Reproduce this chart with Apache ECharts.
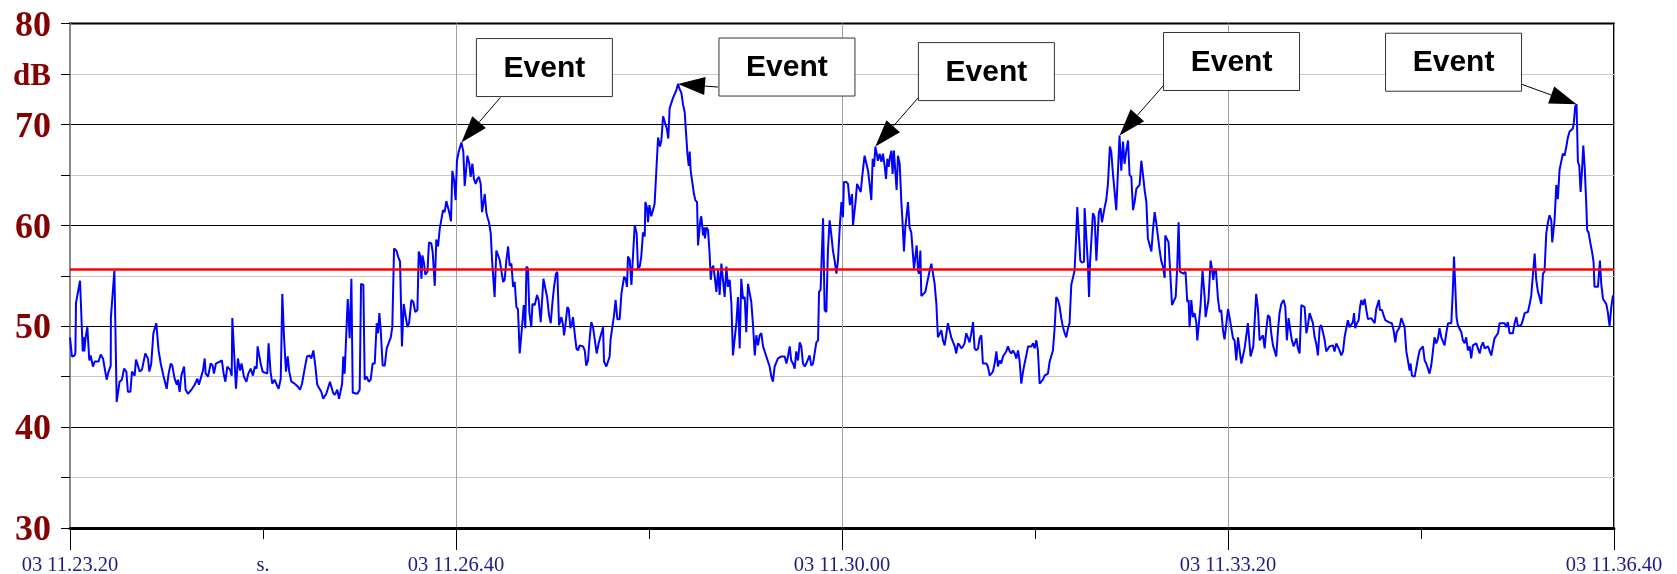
<!DOCTYPE html>
<html>
<head>
<meta charset="utf-8">
<title>Sound level, dB</title>
<script src="https://cdn.jsdelivr.net/npm/echarts@6/dist/echarts.min.js"></script>
<style>
  html, body { margin: 0; padding: 0; background: #fff; }
  #chart { width: 1677px; height: 574px; }
</style>
</head>
<body>
<div id="chart"></div>
<script>
// Time axis: seconds since 03 11.23.20, one label per 100 s tick
const timeTickLabels = ['03 11.23.20', 's.', '03 11.26.40', '', '03 11.30.00', '', '03 11.33.20', '', '03 11.36.40'];
// Level axis: one label per 5 dB tick, from 30 to 80
const levelTickLabels = ['30', '', '40', '', '50', '', '60', '', '70', 'dB', '80'];

// Alarm threshold, dB
const thresholdDb = 55.6;

// Measured level: [seconds since start, dB]
const readings = [
  [0,48.9],[1.0,47.0],[2.4,47.1],[2.8,47.4],[3.1,52.3],[4.1,52.3],[5.2,54.5],[6.6,47.5],[7.1,48.9],[7.4,47.5],
  [8.1,48.9],[9.0,49.9],[10.0,46.6],[10.7,47.1],[11.9,46.0],[12.8,46.5],[14.8,46.5],[15.9,47.2],[17.1,46.8],[19.0,44.7],
  [20.0,45.5],[21.1,46.1],[21.2,50.9],[22.1,50.9],[23.0,55.5],[24.2,42.5],[25.7,44.5],[26.9,44.7],[28.0,45.8],[29.2,45.5],
  [30.0,43.5],[31.3,43.5],[32.1,45.5],[33.5,45.1],[34.2,46.7],[35.2,46.1],[36.1,45.5],[37.3,45.7],[39.0,47.3],[40.4,46.8],
  [41.1,45.5],[42.1,46.3],[43.2,49.3],[43.9,49.3],[44.7,50.3],[45.9,47.6],[47.0,46.3],[48.4,45.1],[49.0,45.1],[50.1,43.8],
  [51.1,45.3],[52.2,46.3],[53.0,46.1],[54.2,44.8],[55.3,44.2],[55.9,44.7],[56.8,43.5],[57.7,45.1],[59.1,46.0],[59.9,43.7],
  [61.1,43.3],[62.9,43.7],[64.6,44.2],[66.0,44.8],[66.8,44.2],[68.0,45.0],[68.9,45.6],[69.8,46.8],[70.3,45.3],[71.5,45.0],
  [72.9,46.3],[73.9,46.1],[74.6,45.3],[75.6,46.3],[78.7,46.6],[79.6,45.3],[80.5,44.5],[81.5,46.0],[82.9,45.7],[83.8,45.1],
  [84.1,50.8],[85.0,50.8],[86.0,43.8],[87.0,46.8],[88.1,45.6],[88.9,46.3],[90.1,45.0],[91.4,44.5],[92.4,45.3],[93.6,45.8],
  [94.8,45.1],[95.8,46.0],[96.7,45.8],[97.2,48.0],[98.1,48.0],[98.8,46.3],[99.8,45.5],[102.2,45.3],[102.9,48.3],[103.9,45.5],
  [104.8,44.3],[106.0,44.7],[107.1,44.2],[108.1,43.8],[109.2,44.8],[110.0,53.2],[110.9,48.9],[111.9,45.5],[112.8,47.0],[113.6,45.5],
  [114.7,44.5],[116.4,44.3],[118.1,44.0],[119.2,43.7],[120.2,44.3],[121.6,45.8],[122.8,47.0],[124.2,47.1],[125.0,46.8],[126.1,47.6],
  [127.1,46.1],[128.1,44.2],[129.0,44.2],[130.2,43.5],[131.2,42.8],[132.8,43.3],[134.7,44.5],
  [135.1,44.4],[136.3,43.4],[137.2,43.2],[138.5,43.7],[139.4,42.8],[140.1,42.7],[141.0,44.3],[141.6,47.0],[142.3,45.3],[143.0,45.4],
  [143.9,52.7],[144.9,48.8],[145.8,54.7],[146.5,43.4],[147.5,43.3],[148.9,43.3],[150.1,43.7],[150.8,54.2],[152.0,54.1],[152.7,44.7],
  [153.7,45.0],[154.8,44.5],[155.8,44.7],[156.8,46.3],[157.9,46.3],[158.9,50.3],[159.6,49.3],[160.3,51.3],[161.0,49.6],[162.0,46.1],
  [163.1,46.1],[164.1,47.8],[165.1,47.9],[166.2,48.9],[167.0,49.9],[167.9,57.7],[169.1,57.5],[170.0,56.9],[171.0,56.4],[172.0,48.0],
  [172.9,52.2],[173.9,52.1],[174.8,49.9],[175.7,50.3],[176.9,52.6],[177.9,52.4],[178.9,51.4],[180.0,51.6],[180.7,57.4],[181.4,57.0],
  [182.1,54.7],[182.6,57.0],[183.3,56.4],[184.1,55.1],[185.2,55.4],[186.0,58.3],[187.2,58.2],[187.9,57.4],[189.0,54.0],[189.8,58.6],
  [190.7,57.9],[191.6,59.7],[192.4,59.6],[193.3,61.5],[194.1,61.3],[195.0,62.4],[195.9,62.3],[196.6,61.2],[197.4,60.4],[198.1,65.4],
  [199.0,64.5],[199.8,62.5],[200.5,66.4],[201.4,67.3],[202.8,68.2],[203.4,68.1],[203.8,67.3],[204.5,63.9],[205.2,63.9],[205.9,66.9],
  [206.9,66.1],[207.6,64.8],[208.5,66.1],[209.3,64.6],[210.2,64.1],[211.1,64.6],[211.9,64.8],[212.8,64.1],[213.5,61.3],[214.2,61.3],
  [214.9,63.1],[215.7,61.3],[216.3,60.8],[217.1,60.3],[218.0,59.2],[218.7,56.5],[219.2,56.5],[220.0,52.9],[220.9,57.5],[221.8,57.5],
  [222.6,56.6],[223.5,56.6],[224.4,54.4],[225.2,54.6],[226.1,56.5],[227.0,57.9],[227.8,56.0],[228.7,56.2],[229.6,53.9],[230.4,54.4],
  [231.3,51.9],[232.1,51.7],[233.0,47.3],[234.2,49.9],[235.1,52.1],[235.9,49.8],[236.5,55.9],[237.3,55.7],[238.0,51.4],[239.0,49.9],
  [239.6,52.2],[240.8,52.1],[242.0,53.1],[242.8,52.6],[243.9,50.4],[244.6,50.3],[245.3,54.7],[246.3,54.7],[247.2,52.9],[248.2,51.1],
  [249.1,50.3],[249.9,52.2],[250.8,53.9],[251.8,55.2],[252.5,55.4],[253.4,50.1],[254.6,50.9],[255.5,50.1],[256.0,49.1],[256.8,50.3],
  [257.7,51.9],[258.4,51.7],[259.3,49.8],[260.1,50.3],[260.6,50.9],[261.5,49.3],[262.4,47.8],[263.2,47.6],[264.1,48.1],[265.8,48.0],
  [266.7,47.6],[267.5,46.1],[268.4,46.6],
  [269.3,48.9],[270.1,50.4],[271.0,49.9],[271.9,49.9],[272.9,47.3],[273.9,48.3],[275.3,49.3],[276.2,49.9],[276.7,46.5],[277.9,46.0],
  [278.8,46.1],[279.6,47.0],[280.1,48.7],[280.8,48.7],[281.9,51.1],[282.7,52.6],[283.6,50.7],[284.8,50.7],[285.7,53.2],[286.2,53.3],
  [287.1,54.9],[287.9,54.7],[288.6,53.9],[289.1,56.9],[290.0,56.6],[290.9,54.1],[291.4,55.9],[292.6,60.0],[293.6,59.2],[294.3,55.7],
  [295.2,55.9],[296.0,56.9],[296.9,59.3],[297.8,58.9],[298.1,62.3],[299.0,61.7],[299.5,60.3],[300.2,62.0],[301.2,60.9],[302.1,61.0],
  [302.9,62.1],[303.8,62.1],[304.7,68.7],[305.7,67.8],[306.4,68.4],[307.3,70.8],[308.1,70.7],[309.2,69.6],[310.0,68.6],[310.7,71.6],
  [311.6,71.7],[312.4,72.6],[313.3,72.7],[314.2,73.4],[315.0,74.0],[315.9,73.5],[316.8,73.1],[317.6,72.0],[318.5,71.2],[319.3,71.1],
  [319.9,67.1],[320.6,65.9],[321.1,67.3],[321.6,65.4],[322.3,65.3],[323.3,63.1],[324.0,62.5],[324.9,62.3],[325.4,58.0],[325.9,58.0],
  [326.6,60.5],[327.1,60.9],[328.0,59.0],[328.5,59.8],[329.0,58.7],[329.7,59.8],[330.6,59.5],[331.4,57.2],[332.0,54.6],[332.6,55.7],
  [333.3,56.0],[334.0,55.0],[334.9,53.4],[335.8,55.5],[336.6,53.1],[337.5,56.2],[338.3,56.2],[339.2,52.9],[340.1,55.9],[340.9,53.9],
  [341.8,54.6],[342.7,52.2],[343.5,47.1],[344.4,47.1],[345.3,50.4],[346.1,52.9],[347.0,47.8],[347.8,54.7],[348.7,52.7],[349.6,52.9],
  [350.4,49.4],[351.3,54.2],[352.2,54.2],[353.0,52.4],[353.9,50.1],[354.8,47.1],[355.6,49.1],[356.5,48.1],[357.3,49.1],[358.2,49.3],
  [359.1,48.0],[359.9,48.1],[360.8,47.0],[361.7,47.0],[362.5,46.0],[363.4,45.0],[364.2,44.5],[365.1,46.0],[366.0,46.0],[366.8,46.8],
  [368.6,47.0],[370.3,47.0],[371.2,46.3],[372.0,47.0],[372.9,48.0],[373.7,46.6],[374.6,46.3],[375.5,45.8],[376.3,47.5],[377.2,46.6],
  [378.1,48.4],[378.9,48.0],[379.8,46.3],[380.7,46.0],[381.5,46.3],[382.4,46.3],[383.2,47.1],[384.1,46.1],[385.0,46.3],[385.8,46.2],
  [386.7,48.4],[387.6,48.6],[388.1,53.4],[388.9,53.6],[390.2,60.7],[391.0,51.6],[391.9,51.4],[392.7,57.5],[393.6,60.5],[394.5,59.0],
  [395.3,57.5],[396.2,56.5],[397.1,55.2],[397.9,56.5],[398.8,59.7],[399.7,62.3],[400.5,60.8],[401.0,64.3],[402.2,64.3],[403.1,64.1],
  [404.1,62.0],
  [405.2,63.1],[405.7,60.0],[406.2,60.0],[406.9,62.1],[407.8,64.1],[408.8,64.1],[409.7,63.3],[410.4,64.7],[411.0,64.6],[411.7,66.9],
  [412.6,66.8],[413.5,65.4],[414.3,64.1],[415.2,62.5],[415.9,66.6],[416.6,65.8],[417.3,67.8],[418.0,67.1],[418.6,66.4],[419.5,67.1],
  [420.4,66.3],[421.2,67.1],[422.1,65.9],[422.8,64.6],[423.5,66.6],[424.2,65.8],[424.9,66.8],[425.6,67.4],[426.2,65.1],[426.9,67.4],
  [427.6,65.4],[428.3,63.5],[429.0,66.9],[429.9,66.1],[430.7,62.5],[431.4,60.2],[432.1,57.4],[432.8,59.8],[433.5,59.7],[434.2,62.3],
  [435.0,59.8],[435.9,59.3],[436.8,59.2],[437.3,55.7],[438.0,55.7],[438.7,58.0],[439.4,55.5],[439.9,55.2],[440.6,57.5],[441.1,53.0],
  [442.1,53.0],[443.2,53.4],[443.9,54.1],[444.5,54.2],[445.4,55.5],[446.3,56.2],[447.1,56.1],[448.0,54.2],[448.9,52.2],[449.7,48.9],
  [450.6,48.8],[451.5,49.6],[452.3,48.6],[453.2,48.1],[454.0,48.0],[454.9,50.3],[455.8,50.3],[456.6,48.9],[457.5,48.8],[458.4,48.0],
  [459.2,47.3],[460.1,48.3],[461.0,48.1],[461.8,47.8],[462.7,48.0],[463.5,48.3],[464.4,49.3],[465.3,49.3],[466.1,48.4],[467.0,49.3],
  [467.9,50.4],[468.7,47.8],[469.6,47.6],[470.5,47.8],[471.3,48.8],[472.2,49.1],[473.0,46.3],[473.9,46.2],[474.8,46.3],[475.6,46.0],
  [476.5,45.1],[477.4,45.2],[478.2,45.5],[479.1,46.3],[480.0,47.5],[480.8,46.0],[481.7,46.6],[482.5,46.3],[483.4,47.0],[484.3,47.1],
  [485.1,47.5],[486.0,48.0],[486.9,47.5],[487.7,47.3],[488.6,47.6],[489.5,47.3],[490.3,46.8],[491.2,47.6],[492.0,46.6],[492.9,44.3],
  [493.8,45.5],[494.6,46.3],[495.5,47.1],[496.4,48.0],[497.2,48.0],[498.1,48.0],[499.0,48.3],[499.8,47.8],[500.7,48.6],[501.5,47.6],
  [502.4,44.3],[503.3,44.2],[504.1,44.7],[505.0,45.1],[505.9,45.0],[506.7,45.3],[507.6,46.5],[508.4,46.6],[509.3,47.6],[510.2,49.9],
  [511.0,52.9],[511.9,52.6],[512.8,51.9],[513.6,50.8],[514.5,49.9],[515.4,49.3],[516.2,48.9],[517.1,49.8],[517.9,50.3],[518.8,54.1],
  [519.7,54.2],[520.5,55.5],[521.4,59.2],[521.9,61.8],[522.6,61.8],[523.5,56.5],[524.3,56.3],[525.4,56.4],[525.7,61.7],[526.6,61.7],
  [527.4,56.2],[528.0,52.9],[528.5,56.2],[529.2,58.5],[530.0,61.2],[530.9,60.8],[531.8,56.5],[532.6,56.5],[533.1,61.3],[534.0,61.7],
  [534.7,60.3],[535.4,60.2],[536.1,61.8],[536.9,62.5],[537.8,64.1],[538.8,67.8],
  [539.5,67.3],[540.4,65.1],[541.3,65.1],[542.1,61.5],[543.0,65.4],[543.8,68.9],[544.7,65.4],[545.6,68.3],[546.4,66.1],[547.3,67.4],
  [548.2,68.4],[549.0,65.0],[549.9,64.8],[550.8,61.5],[551.6,62.3],[552.5,63.6],[553.3,63.8],[554.2,64.0],[555.1,66.4],[555.9,65.1],
  [556.8,63.5],[557.7,62.3],[558.5,58.7],[559.4,58.6],[560.3,57.4],[561.1,59.5],[562.0,61.3],[562.8,60.3],[563.7,60.3],[564.6,57.5],
  [565.4,56.5],[566.3,55.9],[567.2,54.8],[567.5,59.0],[568.4,59.1],[569.2,58.3],[570.1,58.2],[571.0,52.1],[572.0,52.1],[572.9,52.9],
  [573.7,55.9],[574.4,60.3],[575.1,55.4],[576.1,55.4],[576.8,55.2],[578.0,55.4],[578.9,52.4],[579.6,52.6],[580.1,49.9],[581.0,52.6],
  [581.8,50.9],[582.7,51.3],[583.6,50.3],[584.1,48.6],[585.0,48.6],[585.8,52.1],[586.8,55.5],[587.9,52.9],[588.4,50.9],[589.3,50.9],
  [589.9,52.6],[591.0,56.5],[591.7,55.7],[592.4,54.6],[593.1,55.7],[593.8,55.5],[594.8,52.7],[595.7,51.4],[596.5,51.6],[597.4,49.6],
  [598.2,48.7],[599.1,48.7],[600.0,51.7],[600.8,50.9],[601.7,50.9],[602.6,48.8],[603.4,48.6],[604.3,46.6],[605.2,48.9],[606.0,48.9],
  [606.9,46.3],[607.7,46.3],[608.6,47.8],[609.5,49.1],[610.3,50.3],[611.0,50.4],[611.7,47.0],[612.4,47.1],[613.1,48.0],[613.8,48.0],
  [614.6,53.2],[615.5,51.8],[616.4,48.6],[617.2,48.6],[618.1,49.1],[619.0,47.8],[619.8,49.6],[620.7,51.1],[621.6,50.9],[622.4,49.3],
  [623.3,48.1],[624.2,48.1],[625.0,47.0],[625.9,49.6],[626.7,51.3],[627.6,52.2],[628.8,52.6],[629.7,51.9],[630.5,48.6],[631.4,50.8],
  [632.3,49.6],[633.1,48.6],[634.0,48.0],[634.9,48.0],[635.5,48.8],[636.2,47.8],[637.1,47.3],[638.0,52.1],[638.8,52.1],[639.7,51.9],
  [640.6,49.3],[641.4,50.1],[642.3,51.3],[643.1,51.3],[644.0,50.3],[644.9,48.9],[645.7,48.3],[646.6,47.1],[647.5,49.9],[648.3,50.1],
  [649.2,49.4],[650.1,48.6],[650.9,47.5],[651.8,47.5],[652.6,48.0],[653.5,48.0],[654.4,48.1],[655.2,47.5],[656.1,48.3],[657.0,48.3],
  [657.8,47.6],[658.7,47.1],[659.6,47.5],[660.4,48.9],[661.3,48.9],[662.1,50.6],[663.0,49.9],[663.9,50.0],[664.7,50.4],[665.3,51.3],
  [665.9,49.8],[666.8,50.3],[667.7,50.6],[668.4,51.9],[669.1,52.6],[669.9,52.1],[670.8,52.7],[671.6,51.7],[672.5,50.7],[673.5,50.7],
  [674.2,50.8],[675.1,50.8],[676.0,50.3],[676.8,51.7],[678.2,52.6],[678.7,51.6],[679.8,51.6],[680.6,51.1],[681.5,50.6],[683.2,50.4],
  [684.9,50.3],[685.8,49.6],[686.7,48.4],[687.4,49.4],[688.0,49.6],[688.9,49.9],[689.8,50.8],[690.6,50.8],[691.5,49.9],[692.4,47.5],
  [693.2,47.5],[694.1,45.6],[694.6,46.3],[695.3,45.1],[696.0,45.0],[696.7,45.0],[697.5,45.8],[698.4,46.8],[699.3,47.6],[700.1,47.8],
  [701.0,48.0],[701.9,46.6],[702.7,46.3],[703.6,45.8],[704.4,45.3],[705.3,46.1],[706.2,46.1],[707.0,48.9],[707.9,48.3],[708.8,48.8],
  [709.6,49.8],[710.5,48.9],[711.4,48.8],[712.2,48.1],[713.1,49.3],[714.0,50.3],[715.7,50.3],[716.5,53.6],[717.1,56.9],[717.7,54.2],
  [718.4,50.9],[719.1,50.1],[720.9,49.4],[721.7,48.6],[722.6,48.3],[723.4,48.9],[724.3,47.6],[725.2,48.0],[726.0,46.8],[726.9,48.1],
  [728.6,48.3],[729.5,47.8],[730.4,47.3],[731.2,48.0],[732.1,48.4],[733.0,47.8],[734.7,48.0],[736.4,47.1],[737.3,47.1],[738.1,48.8],
  [739.9,49.3],[740.7,50.3],[743.3,50.3],[744.2,49.9],[745.0,50.4],[745.9,49.3],[747.6,49.3],[748.5,50.3],[749.4,50.9],[750.2,50.0],
  [751.9,50.1],[752.8,50.6],[753.7,51.3],[755.4,51.4],[756.3,52.2],[757.1,53.0],[758.0,52.9],[758.9,57.2],[759.7,54.6],[760.6,53.4],
  [761.4,52.9],[762.3,52.2],[763.2,55.2],[764.0,55.4],[764.9,59.2],[765.8,60.3],[766.6,61.0],[767.5,60.5],[768.0,58.3],[768.7,58.3],
  [769.2,60.5],[770.1,64.0],[770.9,62.6],[771.8,65.5],[772.7,65.6],[773.5,67.1],[774.4,66.9],[775.3,67.8],[776.1,68.7],[777.0,69.3],
  [777.8,69.3],[778.7,69.6],[779.2,70.2],[779.9,71.8],[780.6,72.0],[781.3,66.3],[782.0,65.9],[782.7,63.3],[783.4,65.4],[784.1,67.9],
  [784.8,65.8],[785.6,62.3],[786.1,59.5],[786.8,59.3],[787.7,58.3],[788.6,57.4],[789.4,56.4],[789.9,53.9],[791.7,53.9],[792.7,56.5],
  [793.4,54.2],[794.3,52.7],[795.1,52.6],[796.0,52.2],[796.8,51.4],[797.7,50.0],[798.6,51.9],[799.4,53.0],[800.0,53.0]
];

// Peaks flagged as events (seconds since start)
const eventSeconds = [202.8, 315.0, 417.3, 543.8, 780.6];
const eventLabel = 'Event';

// Callout placement in pixels, relative to the flagged peak:
// box top-left corner (bx, by) and the arrow tail (ax, ay)
const callouts = [
  { bx: 15,   by: -104, ax: 39,  ay: -45 },
  { bx: 41,   by: -46,  ax: 40,  ay: 3 },
  { bx: 43,   by: -104, ax: 43,  ay: -49 },
  { bx: 44,   by: -103, ax: 44,  ay: -50 },
  { bx: -191, by: -71,  ax: -55, ay: -20 }
];
const BOX_W = 136, BOX_H = 58;

const eventPoints = eventSeconds.map(t => {
  const hit = readings.find(r => r[0] === t);
  return [t, hit[1]];
});

function renderCallout(params, api) {
  const c = callouts[params.dataIndex];
  const tip = api.coord([api.value(0), api.value(1)]);
  const tail = [tip[0] + c.ax, tip[1] + c.ay];
  const dx = tip[0] - tail[0], dy = tip[1] - tail[1];
  const len = Math.hypot(dx, dy);
  const ux = dx / len, uy = dy / len;
  const headLen = 27, headHalf = 9;
  const baseX = tip[0] - ux * headLen, baseY = tip[1] - uy * headLen;
  const left = tip[0] + c.bx, top = tip[1] + c.by;
  return {
    type: 'group',
    children: [
      { type: 'line', shape: { x1: tail[0], y1: tail[1], x2: baseX, y2: baseY },
        style: { stroke: '#000', lineWidth: 1 } },
      { type: 'polygon',
        shape: { points: [tip, [baseX - uy * headHalf, baseY + ux * headHalf], [baseX + uy * headHalf, baseY - ux * headHalf]] },
        style: { fill: '#000' } },
      { type: 'rect', shape: { x: left, y: top, width: BOX_W, height: BOX_H },
        style: { fill: '#fff', stroke: '#333', lineWidth: 1 } },
      { type: 'text', x: left + BOX_W / 2, y: top + BOX_H / 2 + 1,
        style: { text: eventLabel, font: 'bold 30px "Liberation Sans", Arial, sans-serif',
                 fill: '#000', align: 'center', verticalAlign: 'middle' } }
    ]
  };
}

const chart = echarts.init(document.getElementById('chart'), null, { renderer: 'canvas' });

chart.setOption({
  animation: false,
  backgroundColor: '#fff',
  grid: {
    left: 70, right: 63, top: 23.5, bottom: 46,
    show: true, borderColor: '#000', borderWidth: 2, backgroundColor: 'transparent',
    containLabel: false, outerBoundsMode: 'none'
  },
  xAxis: [
    {
      type: 'value', min: 0, max: 800, interval: 100, position: 'bottom',
      axisLine: { show: true, onZero: false, lineStyle: { color: '#000', width: 3 } },
      axisTick: { show: true, length: 11, lineStyle: { color: '#000', width: 1 } },
      axisLabel: {
        formatter: v => timeTickLabels[Math.round(v / 100)] || '',
        color: '#1c1c8a', fontFamily: '"Liberation Serif", "Times New Roman", serif',
        fontSize: 20.5, margin: 27, showMinLabel: true, showMaxLabel: true, hideOverlap: false
      },
      splitLine: { show: false }
    },
    {
      type: 'value', min: 0, max: 800, interval: 200, position: 'bottom',
      axisLine: { show: false, onZero: false },
      axisTick: { show: true, length: 22, lineStyle: { color: '#000', width: 1 } },
      axisLabel: { show: false },
      splitLine: { show: true, lineStyle: { color: '#a0a0a0', width: 1 } }
    }
  ],
  yAxis: [
    {
      type: 'value', min: 30, max: 80, interval: 5,
      axisLine: { show: true, lineStyle: { color: '#000', width: 2 } },
      axisTick: { show: true, length: 9, lineStyle: { color: '#000', width: 1 } },
      axisLabel: {
        formatter: v => {
          const s = levelTickLabels[Math.round((v - 30) / 5)] || '';
          return /^\d+$/.test(s) ? s : (s ? '{unit|' + s + '}' : '');
        },
        color: '#850000', fontFamily: '"Liberation Serif", "Times New Roman", serif',
        fontWeight: 'bold', fontSize: 36, margin: 19, padding: [6, 0, 0, 0],
        rich: {
          unit: { color: '#850000', fontFamily: '"Liberation Serif", "Times New Roman", serif',
                  fontWeight: 'bold', fontSize: 31 }
        }
      },
      splitLine: { show: true, lineStyle: { color: ['#000', '#c8c8c8'], width: 1 } }
    },
    {
      type: 'value', min: 30, max: 80, position: 'right',
      axisLine: { show: true, lineStyle: { color: '#8a8a8a', width: 2 } },
      axisTick: { show: false }, axisLabel: { show: false }, splitLine: { show: false }
    }
  ],
  series: [
    {
      name: 'Level', type: 'line', xAxisIndex: 0, yAxisIndex: 0,
      data: readings, showSymbol: false, symbol: 'none',
      lineStyle: { color: '#0000ff', width: 2 }, itemStyle: { color: '#0000ff' },
      z: 3,
      markLine: {
        silent: true, symbol: ['none', 'none'], label: { show: false },
        lineStyle: { color: '#ff0000', width: 2.5, type: 'solid' },
        data: [{ yAxis: thresholdDb }]
      }
    },
    {
      name: 'Events', type: 'custom', xAxisIndex: 0, yAxisIndex: 0,
      renderItem: renderCallout, data: eventPoints, z: 10, silent: true
    }
  ]
});
</script>
</body>
</html>
